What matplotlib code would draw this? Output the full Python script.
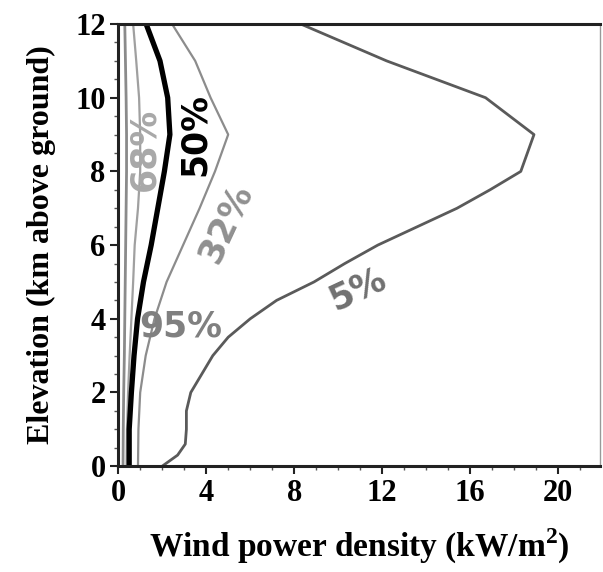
import matplotlib
matplotlib.use("Agg")
import matplotlib.pyplot as plt
from matplotlib.ticker import MultipleLocator

# elevation levels (km) and wind power density (kW/m2) per percentile curve
elev = [0, 0.3, 0.6, 1, 1.5, 2, 2.5, 3, 3.5, 4, 4.5, 5, 5.5, 6, 6.5, 7, 7.5, 8, 9, 10, 11, 12]
p05 = [2.0, 2.7, 3.05, 3.1, 3.1, 3.3, 3.8, 4.3, 5.0, 6.0, 7.2, 8.9, 10.3, 11.8, 13.6, 15.4, 16.9, 18.3, 18.9, 16.7, 12.2, 8.3]

elev_k = [0, 1, 2, 3, 4, 5, 6, 7, 8, 9, 10, 11, 12]
p32 = [0.9, 0.92, 1.0, 1.25, 1.65, 2.2, 2.95, 3.7, 4.4, 5.0, 4.2, 3.5, 2.45]
p50 = [0.5, 0.5, 0.6, 0.72, 0.88, 1.15, 1.5, 1.8, 2.1, 2.35, 2.25, 1.9, 1.27]
p68 = [0.38, 0.4, 0.45, 0.52, 0.6, 0.68, 0.75, 0.9, 1.0, 1.0, 0.95, 0.82, 0.68]
p95 = [0.22, 0.23, 0.25, 0.28, 0.3, 0.32, 0.34, 0.36, 0.38, 0.38, 0.36, 0.33, 0.3]

serif = ["Liberation Serif", "DejaVu Serif"]
plt.rcParams["mathtext.fontset"] = "custom"
plt.rcParams["mathtext.bf"] = "Liberation Serif:bold"
plt.rcParams["mathtext.rm"] = "Liberation Serif:bold"

fig = plt.figure(figsize=(6.03, 5.72), dpi=100)
ax = fig.add_axes([0.196, 0.185, 0.799, 0.773])

ax.plot(p95, elev_k, color="#8a8a8a", lw=2.0)
ax.plot(p68, elev_k, color="#a0a0a0", lw=1.6)
ax.plot(p32, elev_k, color="#8c8c8c", lw=1.6)
ax.plot(p05, elev, color="#5a5a5a", lw=2.0)
ax.plot(p50, elev_k, color="black", lw=3.8)

lab = dict(family="DejaVu Sans", fontsize=25, fontweight="bold", ha="center", va="center")
ax.text(10.9, 4.8, "5%", color="#707070", rotation=25, **lab)
ax.text(4.9, 6.6, "32%", color="#909090", rotation=65, **lab)
ax.text(3.5, 9.0, "50%", color="black", rotation=90, **lab)
ax.text(1.2, 8.6, "68%", color="#a8a8a8", rotation=90, **lab)
ax.text(2.85, 3.8, "95%", color="#808080", rotation=0, **lab)

ax.set_xlim(0, 21.9)
ax.set_ylim(0, 12)
ax.xaxis.set_major_locator(MultipleLocator(4))
ax.xaxis.set_minor_locator(MultipleLocator(1))
ax.yaxis.set_major_locator(MultipleLocator(2))
ax.yaxis.set_minor_locator(MultipleLocator(0.5))
ax.tick_params(which="major", direction="out", length=6, width=1.5, colors="#222222", pad=3)
ax.tick_params(which="minor", direction="out", length=3, width=1.0, colors="#555555")

for t in ax.get_xticklabels() + ax.get_yticklabels():
    t.set_fontfamily(serif)
    t.set_fontweight("bold")
    t.set_fontsize(22)
    t.set_color("black")

for side in ["left", "bottom", "top"]:
    ax.spines[side].set_linewidth(2.2)
    ax.spines[side].set_color("#222222")
ax.spines["right"].set_linewidth(1.0)
ax.spines["right"].set_color("#999999")

ax.set_xlabel("Wind power density (kW/m$^{\\mathbf{2}}$)", family=serif, fontweight="bold", fontsize=24, labelpad=14)
ax.set_ylabel("Elevation (km above ground)", family=serif, fontweight="bold", fontsize=23, labelpad=14)

fig.savefig("out.png", dpi=100)
